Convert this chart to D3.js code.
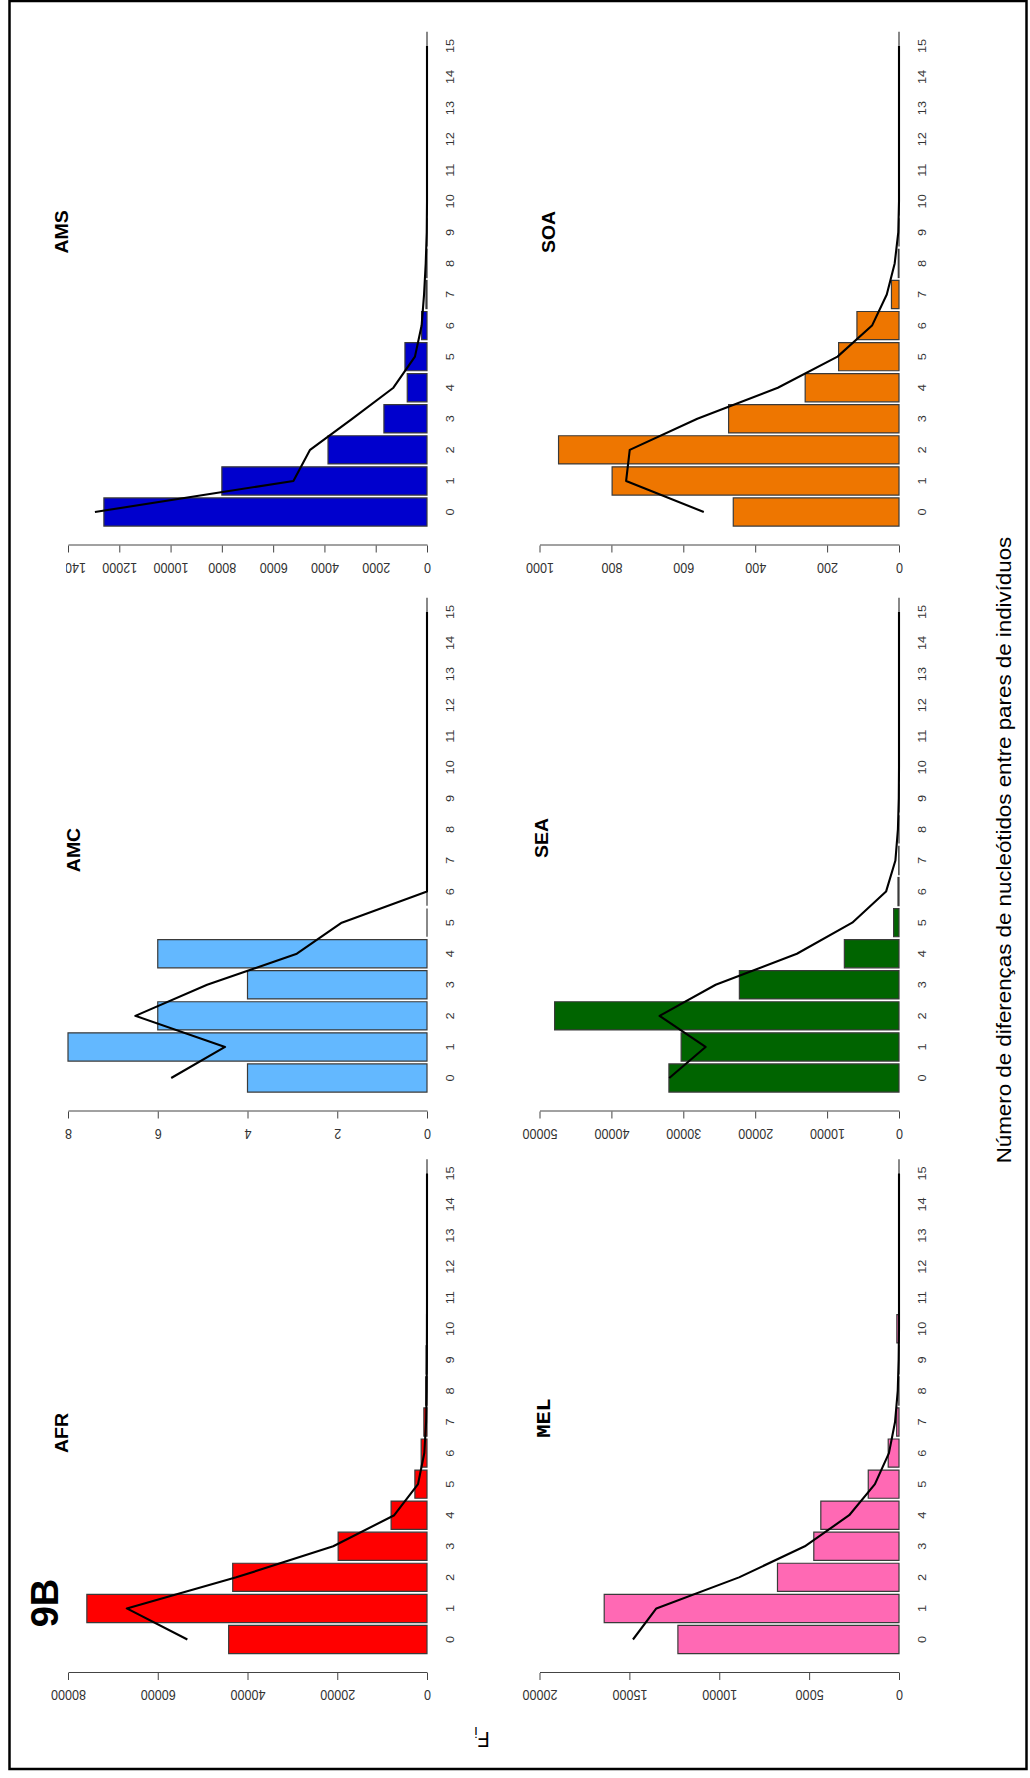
<!DOCTYPE html>
<html>
<head>
<meta charset="utf-8">
<script src="https://cdn.jsdelivr.net/npm/d3@7"></script>
<style>
  body { margin: 0; background: #fff; }
  svg { display: block; }
</style>
</head>
<body>
<script>
// Pairwise nucleotide differences (0..15) and their frequencies per population
const diffs = [0, 1, 2, 3, 4, 5, 6, 7, 8, 9, 10, 11, 12, 13, 14, 15];

const afrBars = [44200, 75800, 43300, 19800, 8000, 2700, 1300, 700, 300, 200, 100, 0, 0, 0, 0, 0];
const afrLine = [53400, 66900, 42500, 20900, 7300, 2000, 600, 200, 80, 30, 10, 0, 0, 0, 0, 0];
const afrTicks = [0, 20000, 40000, 60000, 80000];

const amcBars = [4, 8, 6, 4, 6, 0, 0, 0, 0, 0, 0, 0, 0, 0, 0, 0];
const amcLine = [5.7, 4.5, 6.5, 4.9, 2.9, 1.9, 0, 0, 0, 0, 0, 0, 0, 0, 0, 0];
const amcTicks = [0, 2, 4, 6, 8];

const amsBars = [12600, 8000, 3860, 1680, 770, 860, 210, 40, 10, 0, 0, 0, 0, 0, 0, 0];
const amsLine = [12950, 5210, 4560, 2920, 1310, 470, 210, 115, 50, 10, 0, 0, 0, 0, 0, 0];
const amsTicks = [0, 2000, 4000, 6000, 8000, 10000, 12000, 14000];

const melBars = [12300, 16400, 6760, 4740, 4350, 1710, 600, 130, 10, 10, 120, 0, 0, 0, 0, 0];
const melLine = [14800, 13500, 8900, 5240, 2770, 1340, 560, 220, 70, 20, 0, 0, 0, 0, 0, 0];
const melTicks = [0, 5000, 10000, 15000, 20000];

const seaBars = [32000, 30300, 47900, 22200, 7600, 750, 140, 30, 0, 0, 0, 0, 0, 0, 0, 0];
const seaLine = [31950, 26900, 33300, 25500, 14200, 6500, 1800, 500, 150, 30, 0, 0, 0, 0, 0, 0];
const seaTicks = [0, 10000, 20000, 30000, 40000, 50000];

const soaBars = [461, 798, 947, 474, 261, 168, 117, 21, 2, 0, 0, 0, 0, 0, 0, 0];
const soaLine = [543, 759, 749, 561, 337, 171, 75, 34, 12, 2, 0, 0, 0, 0, 0, 0];
const soaTicks = [0, 200, 400, 600, 800, 1000];

const W = 1030, H = 1778;
const SANS = "'Liberation Sans', Arial, Helvetica, sans-serif";
const MONO = "'Liberation Mono', 'Courier New', monospace";

const svg = d3.select("body").append("svg")
  .attr("width", W).attr("height", H);

// outer frame
svg.append("rect")
  .attr("x", 9.5).attr("y", 1).attr("width", 1017).attr("height", 1768)
  .attr("fill", "none").attr("stroke", "#000").attr("stroke-width", 2.5);

// The figure is built as an upright 3-column x 2-row grid (1778 x 1030)
// and turned a quarter turn counter-clockwise onto the page.
const fig = svg.append("g").attr("transform", `translate(0,${H}) rotate(-90)`);

const STEP = 31.07;     // distance between bar centres
const HALF = 14.1;      // half bar width
const SX = 1.1;         // horizontal stretch of the lettering
const colX = [138.5, 700, 1266];          // centre of bar 0 in each column
const rowBase = [427, 899];               // zero line of each row
const rowTop = [68, 539.5];               // top tick of each row
const rowLab = [450, 922];                // category label line

const panels = [
  { name: "AFR", col: 0, row: 0, bars: afrBars, line: afrLine, ticks: afrTicks, fill: "#FF0000", tx: 345, ty: 68, mono: false },
  { name: "AMC", col: 1, row: 0, bars: amcBars, line: amcLine, ticks: amcTicks, fill: "#63B8FF", tx: 928, ty: 80, mono: false },
  { name: "AMS", col: 2, row: 0, bars: amsBars, line: amsLine, ticks: amsTicks, fill: "#0000CD", tx: 1546, ty: 68, mono: false, clipTop: 66 },
  { name: "MEL", col: 0, row: 1, bars: melBars, line: melLine, ticks: melTicks, fill: "#FF69B4", tx: 360, ty: 550, mono: true },
  { name: "SEA", col: 1, row: 1, bars: seaBars, line: seaLine, ticks: seaTicks, fill: "#006400", tx: 940, ty: 548, mono: false },
  { name: "SOA", col: 2, row: 1, bars: soaBars, line: soaLine, ticks: soaTicks, fill: "#EE7600", tx: 1546, ty: 555, mono: false }
];

const defs = svg.append("defs");

panels.forEach((p, pi) => {
  const cx = colX[p.col];
  const r = p.row;
  const x = d3.scaleLinear().domain([0, 15]).range([cx, cx + 15 * STEP]);
  const y = d3.scaleLinear().domain([0, d3.max(p.ticks)]).range([rowBase[r], rowTop[r]]);

  const g = fig.append("g").attr("class", "panel");

  // bars (zero-height bars still leave their outline on the base line)
  g.selectAll("path.bar").data(p.bars).join("path")
    .attr("class", "bar")
    .attr("d", (v, i) => {
      const x0 = x(diffs[i]) - HALF, x1 = x(diffs[i]) + HALF;
      return `M${x0},${y(0)}H${x1}V${y(v)}H${x0}Z`;
    })
    .attr("fill", p.fill)
    .attr("stroke", "#3a3a3a")
    .attr("stroke-width", 1.2);

  // expected distribution line
  const lineGen = d3.line().x((v, i) => x(diffs[i])).y(v => y(v));
  g.append("path")
    .attr("d", lineGen(p.line))
    .attr("fill", "none")
    .attr("stroke", "#000")
    .attr("stroke-width", 2.1)
    .attr("stroke-linejoin", "round");

  // frequency axis
  const ax = g.append("g")
    .attr("transform", `translate(${cx - 33.5},0)`)
    .call(d3.axisLeft(y).tickValues(p.ticks).tickSize(7).tickSizeOuter(0).tickFormat(d3.format("d")))
    .attr("font-family", SANS).attr("font-size", 12.6);
  ax.select(".domain").attr("stroke", "#444");
  ax.selectAll(".tick line").attr("stroke", "#444");
  ax.selectAll(".tick text")
    .attr("x", 0).attr("dy", null)
    .attr("fill", "#333")
    .attr("text-anchor", "middle")
    .attr("dominant-baseline", "central")
    .attr("transform", `translate(-22,0) scale(${SX},1) rotate(-90)`);
  if (p.clipTop !== undefined) {
    const id = "clip" + pi;
    defs.append("clipPath").attr("id", id)
      .append("rect").attr("x", -200).attr("y", p.clipTop).attr("width", 400).attr("height", 1000);
    ax.attr("clip-path", `url(#${id})`);
  }

  // difference labels
  g.selectAll("text.cat").data(diffs).join("text")
    .attr("class", "cat")
    .attr("transform", d => `translate(${x(d)},${rowLab[r]}) scale(${SX},1)`)
    .attr("text-anchor", "middle")
    .attr("dominant-baseline", "central")
    .attr("font-family", SANS)
    .attr("font-size", 11.6)
    .attr("fill", "#333")
    .text(d => d);

  // population name
  g.append("text")
    .attr("transform", `translate(${p.tx},${p.ty}) scale(${SX},1)`)
    .attr("text-anchor", "middle")
    .attr("font-family", p.mono ? MONO : SANS)
    .attr("font-weight", "bold")
    .attr("font-size", p.mono ? 20 : 17.7)
    .attr("fill", "#000")
    .text(p.name);
});

// figure tag
fig.append("text")
  .attr("x", 175).attr("y", 58)
  .attr("text-anchor", "middle")
  .attr("font-family", SANS)
  .attr("font-weight", "bold")
  .attr("font-size", 38)
  .attr("fill", "#000")
  .text("9B");

// shared axis titles
fig.append("text")
  .attr("transform", `translate(928,1011) scale(${SX},1)`)
  .attr("text-anchor", "middle")
  .attr("font-family", SANS)
  .attr("font-size", 20.3)
  .attr("fill", "#000")
  .text("Número de diferenças de nucleótidos entre pares de indivíduos");

const fy = fig.append("text")
  .attr("transform", `translate(46,482) scale(${SX},1) rotate(-90)`)
  .attr("text-anchor", "middle")
  .attr("font-family", SANS)
  .attr("font-size", 20)
  .attr("fill", "#000");
fy.append("tspan").text("F");
fy.append("tspan").attr("dy", "0.3em").attr("font-size", 14).text("i");
</script>
</body>
</html>
